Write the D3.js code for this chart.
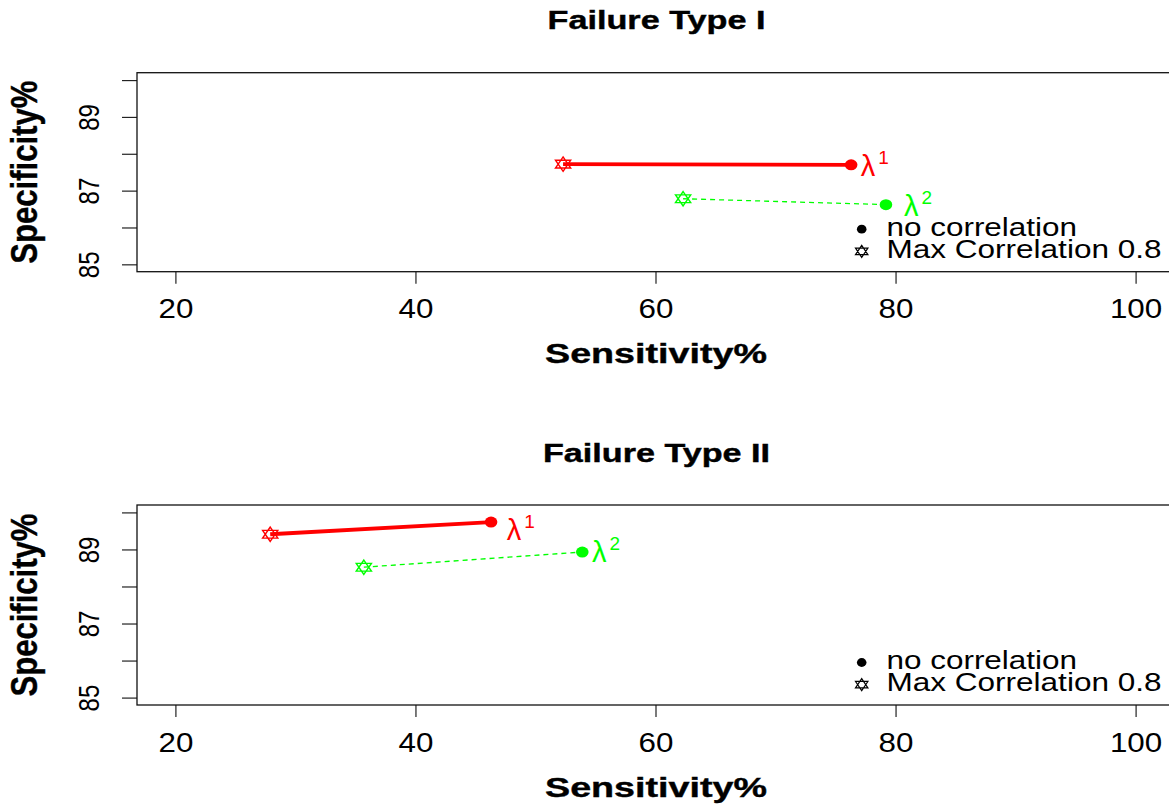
<!DOCTYPE html>
<html>
<head>
<meta charset="utf-8">
<script src="https://cdn.jsdelivr.net/npm/d3@7"></script>
<style>
  html, body { margin: 0; padding: 0; background: #fff; }
  svg { display: block; font-family: "Liberation Sans", Arial, Helvetica, sans-serif; }
</style>
</head>
<body>
<svg id="chart" width="1169" height="808"></svg>
<script>
// Sensitivity / specificity pairs per failure type.
// Each series: point without correlation (dot) and with max correlation 0.8 (star).
const panelTitles = ["Failure Type I", "Failure Type II"];
const seriesSup = ["1", "2"];
const seriesColors = ["#ff0000", "#00ff00"];

// [sensitivity, specificity] for "no correlation"
const noCorrI  = [[76.3, 87.70], [79.2, 86.62]];
const noCorrII = [[46.3, 89.74], [53.9, 88.93]];
// [sensitivity, specificity] for "Max Correlation 0.8"
const maxCorrI  = [[52.3, 87.72], [62.3, 86.78]];
const maxCorrII = [[27.9, 89.41], [35.7, 88.52]];
// label anchors (sensitivity, specificity)
const labelAtI  = [[77.1, 87.68], [80.7, 86.58]];
const labelAtII = [[47.6, 89.53], [54.7, 88.93]];

const xTicks = [20, 40, 60, 80, 100];
const yTicks = [85, 86, 87, 88, 89, 90];
const yTickLabels = [85, 87, 89];
const xDomain = [20, 100];
const yDomain = [85, 90];
const legendLabels = ["no correlation", "Max Correlation 0.8"];

const panels = [
  { title: panelTitles[0], noCorr: noCorrI, maxCorr: maxCorrI, labels: labelAtI, top: 72.7, bottom: 271.7 },
  { title: panelTitles[1], noCorr: noCorrII, maxCorr: maxCorrII, labels: labelAtII, top: 505, bottom: 705 }
];

const svg = d3.select("#chart");
const left = 137, right = 1174;

// R-style 4% padding around the data range
function padded(d) { const p = (d[1] - d[0]) * 0.04; return [d[0] - p, d[1] + p]; }

// star of David marker (two overlapping triangles)
function starPath(w, h) {
  const b = h * 0.54;
  return `M0,${-h}L${w},${b}L${-w},${b}Z M0,${h}L${w},${-b}L${-w},${-b}Z`;
}

panels.forEach(p => {
  const g = svg.append("g");
  const x = d3.scaleLinear().domain(padded(xDomain)).range([left, right]);
  const y = d3.scaleLinear().domain(padded(yDomain)).range([p.bottom, p.top]);

  // title
  g.append("text")
    .attr("x", (left + right) / 2 + 1).attr("y", p.top - 43.5)
    .attr("text-anchor", "middle")
    .attr("font-weight", "bold").attr("font-size", 25)
    .attr("stroke", "#000").attr("stroke-width", 0.4)
    .attr("textLength", p.title.length > 14 ? 227 : 218)
    .attr("lengthAdjust", "spacingAndGlyphs")
    .text(p.title);

  // x axis
  const xa = g.append("g").attr("transform", `translate(0,${p.bottom})`)
    .call(d3.axisBottom(x).tickValues(xTicks).tickSize(12).tickSizeOuter(0).tickFormat(d3.format("d")));
  xa.select(".domain").remove();
  xa.selectAll(".tick line").attr("stroke", "#222").attr("stroke-width", 1.2);
  xa.selectAll(".tick text")
    .attr("y", 0).attr("dy", 0)
    .attr("font-size", 28).attr("fill", "#000")
    .attr("font-family", "Liberation Sans, Arial, sans-serif")
    .attr("transform", "translate(0,46.5) scale(1.12,1)");

  // x axis title
  g.append("text")
    .attr("x", 656).attr("y", p.bottom + 91.6)
    .attr("text-anchor", "middle")
    .attr("font-weight", "bold").attr("font-size", 28)
    .attr("stroke", "#000").attr("stroke-width", 0.4)
    .attr("textLength", 222).attr("lengthAdjust", "spacingAndGlyphs")
    .text("Sensitivity%");

  // y axis
  const ya = g.append("g").attr("transform", `translate(${left},0)`)
    .call(d3.axisLeft(y).tickValues(yTicks).tickSize(15).tickSizeOuter(0)
      .tickFormat(d => yTickLabels.includes(d) ? String(d) : ""));
  ya.select(".domain").remove();
  ya.selectAll(".tick line").attr("stroke", "#222").attr("stroke-width", 1.2);
  ya.selectAll(".tick text")
    .attr("x", 0).attr("dy", 0)
    .attr("font-size", 30).attr("fill", "#000")
    .attr("font-family", "Liberation Sans, Arial, sans-serif")
    .attr("text-anchor", "middle")
    .attr("transform", "translate(-37.7,0) rotate(-90)")
    .attr("textLength", function () { return this.textContent ? 26.7 : null; })
    .attr("lengthAdjust", "spacingAndGlyphs");

  // y axis title
  g.append("text")
    .attr("transform", `translate(37.3,${(p.top + p.bottom) / 2}) rotate(-90)`)
    .attr("text-anchor", "middle")
    .attr("font-weight", "bold").attr("font-size", 36)
    .attr("stroke", "#000").attr("stroke-width", 0.4)
    .attr("textLength", 183).attr("lengthAdjust", "spacingAndGlyphs")
    .text("Specificity%");

  // plot box
  g.append("rect")
    .attr("x", left).attr("y", p.top)
    .attr("width", right - left).attr("height", p.bottom - p.top)
    .attr("fill", "none").attr("stroke", "#111").attr("stroke-width", 1.3);

  // connecting segments
  p.noCorr.forEach((d, i) => {
    const m = p.maxCorr[i];
    g.append("line")
      .attr("x1", x(m[0])).attr("y1", y(m[1]))
      .attr("x2", x(d[0])).attr("y2", y(d[1]))
      .attr("stroke", seriesColors[i])
      .attr("stroke-width", i === 0 ? 3.8 : 1.3)
      .attr("stroke-dasharray", i === 0 ? null : "5,4");
  });

  // max correlation markers
  p.maxCorr.forEach((d, i) => {
    g.append("path")
      .attr("d", starPath(7.6, 7.2))
      .attr("transform", `translate(${x(d[0])},${y(d[1])})`)
      .attr("fill", "none").attr("stroke", seriesColors[i]).attr("stroke-width", 1.4);
  });

  // no correlation markers
  p.noCorr.forEach((d, i) => {
    g.append("ellipse")
      .attr("cx", x(d[0])).attr("cy", y(d[1]))
      .attr("rx", 6.3).attr("ry", 5.5)
      .attr("fill", seriesColors[i]);
  });

  // series labels (lambda with superscript)
  p.labels.forEach((d, i) => {
    const t = g.append("text")
      .attr("x", x(d[0])).attr("y", y(d[1]) + 10)
      .attr("fill", seriesColors[i]);
    t.append("tspan").attr("font-size", 29).text("λ");
    t.append("tspan").attr("font-size", 19).attr("dx", 3).attr("dy", -12).text(seriesSup[i]);
  });

  // legend
  const lg = g.append("g").attr("transform", `translate(0,${p.bottom})`);
  lg.append("ellipse").attr("cx", 861.7).attr("cy", -42.5).attr("rx", 4.8).attr("ry", 4.4).attr("fill", "#000");
  lg.append("path").attr("d", starPath(6.2, 6.0))
    .attr("transform", "translate(861.7,-20.3)")
    .attr("fill", "none").attr("stroke", "#000").attr("stroke-width", 1.2);
  lg.append("text").attr("x", 886.5).attr("y", -36)
    .attr("font-size", 25).attr("textLength", 190.5).attr("lengthAdjust", "spacingAndGlyphs")
    .text(legendLabels[0]);
  lg.append("text").attr("x", 886.5).attr("y", -13.7)
    .attr("font-size", 25).attr("textLength", 275).attr("lengthAdjust", "spacingAndGlyphs")
    .text(legendLabels[1]);
});
</script>
</body>
</html>
